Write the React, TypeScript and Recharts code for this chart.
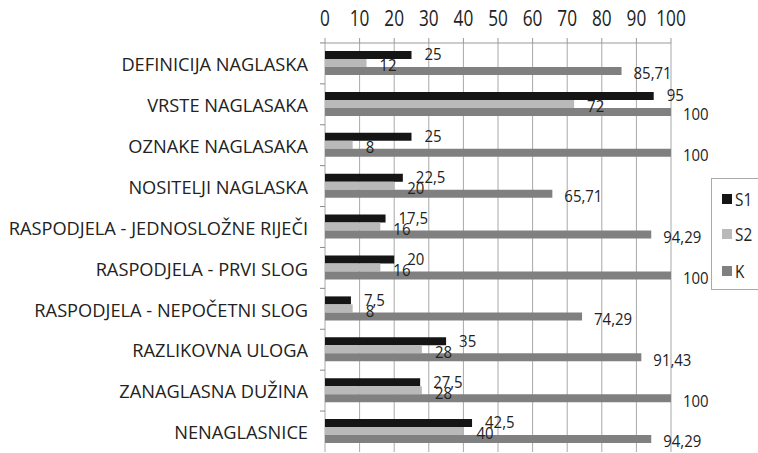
import { BarChart, Bar, XAxis, YAxis, CartesianGrid, LabelList } from "recharts";

const categories = [
  "DEFINICIJA NAGLASKA",
  "VRSTE NAGLASAKA",
  "OZNAKE NAGLASAKA",
  "NOSITELJI NAGLASKA",
  "RASPODJELA - JEDNOSLOŽNE RIJEČI",
  "RASPODJELA - PRVI SLOG",
  "RASPODJELA - NEPOČETNI SLOG",
  "RAZLIKOVNA ULOGA ",
  "ZANAGLASNA DUŽINA",
  "NENAGLASNICE",
];
const s1 = [25, 95, 25, 22.5, 17.5, 20, 7.5, 35, 27.5, 42.5];
const s2 = [12, 72, 8, 20, 16, 16, 8, 28, 28, 40];
const k = [85.71, 100, 100, 65.71, 94.29, 100, 74.29, 91.43, 100, 94.29];
const xTicks = [0, 10, 20, 30, 40, 50, 60, 70, 80, 90, 100];

const series = [
  { key: "S1", data: s1, color: "#151515", dx: 13, dy: -1 },
  { key: "S2", data: s2, color: "#b9b9b9", dx: 13, dy: 2 },
  { key: "K", data: k, color: "#808080", dx: 12, dy: 2 },
];

const FONT = "'Open Sans', sans-serif";

const rows = categories.map((name, i) => {
  const row: any = { name };
  series.forEach((s) => {
    row[s.key] = s.data[i];
  });
  return row;
});

const fmt = (v: number) => String(v).replace(".", ",");

// text squeezed horizontally, the source font is narrow
const NarrowText = ({ x, y, size, sx, anchor, children }: any) => (
  <text
    transform={`translate(${x},${y}) scale(${sx},1)`}
    textAnchor={anchor || "start"}
    dominantBaseline="central"
    fontSize={size}
    fontFamily={FONT}
    fill="#222"
  >
    {children}
  </text>
);

const makeLabel = (dx: number, dy: number) => (props: any) => {
  const { x, y, width, height, value } = props;
  return (
    <NarrowText x={x + width + dx} y={y + height / 2 + dy} size={17} sx={0.88}>
      {fmt(value)}
    </NarrowText>
  );
};

const CatTick = (props: any) => {
  const { x, y, payload } = props;
  const axisX = 325;
  return (
    <g>
      <line x1={axisX - 5} x2={axisX} y1={y - 20.5} y2={y - 20.5} stroke="#888" />
      <NarrowText x={axisX - 17} y={y} size={19} sx={0.96} anchor="end">
        {payload.value}
      </NarrowText>
    </g>
  );
};

const NumTick = (props: any) => {
  const { x, payload } = props;
  return (
    <NarrowText x={x} y={18} size={21} sx={0.82} anchor="middle">
      {payload.value}
    </NarrowText>
  );
};

export default function App() {
  return (
    <div style={{ position: "absolute", left: 0, top: 0, width: 758, height: 453, background: "#fff", overflow: "hidden" }}>
      <BarChart
        width={758}
        height={453}
        data={rows}
        layout="vertical"
        margin={{ top: 0, right: 87, left: 0, bottom: 1 }}
        barSize={8}
        barGap={0}
      >
        <CartesianGrid horizontal={false} stroke="#a8a8a8" />
        <XAxis
          type="number"
          orientation="top"
          domain={[0, 100]}
          ticks={xTicks}
          interval={0}
          height={43}
          tickSize={5}
          stroke="#999"
          tick={<NumTick />}
        />
        <YAxis
          type="category"
          dataKey="name"
          width={325}
          tickLine={false}
          axisLine={false}
          interval={0}
          tick={<CatTick />}
        />
        {series.map((s) => (
          <Bar key={s.key} dataKey={s.key} fill={s.color} isAnimationActive={false}>
            <LabelList dataKey={s.key} content={makeLabel(s.dx, s.dy)} />
          </Bar>
        ))}
      </BarChart>
      <div
        style={{
          position: "absolute",
          left: 711,
          top: 178,
          width: 60,
          height: 110,
          border: "1px solid #aaa",
          fontFamily: FONT,
          fontSize: 18,
          color: "#222",
        }}
      >
        {series.map((s, i) => (
          <div
            key={s.key}
            style={{
              position: "absolute",
              left: 10,
              top: 20 + [0, 35, 72][i] - 12,
              height: 24,
              display: "flex",
              alignItems: "center",
            }}
          >
            <span style={{ width: 10, height: 10, background: s.color, display: "inline-block", marginRight: 3 }} />
            <span style={{ display: "inline-block", transform: "scaleX(0.85)", transformOrigin: "left center" }}>{s.key}</span>
          </div>
        ))}
      </div>
    </div>
  );
}
